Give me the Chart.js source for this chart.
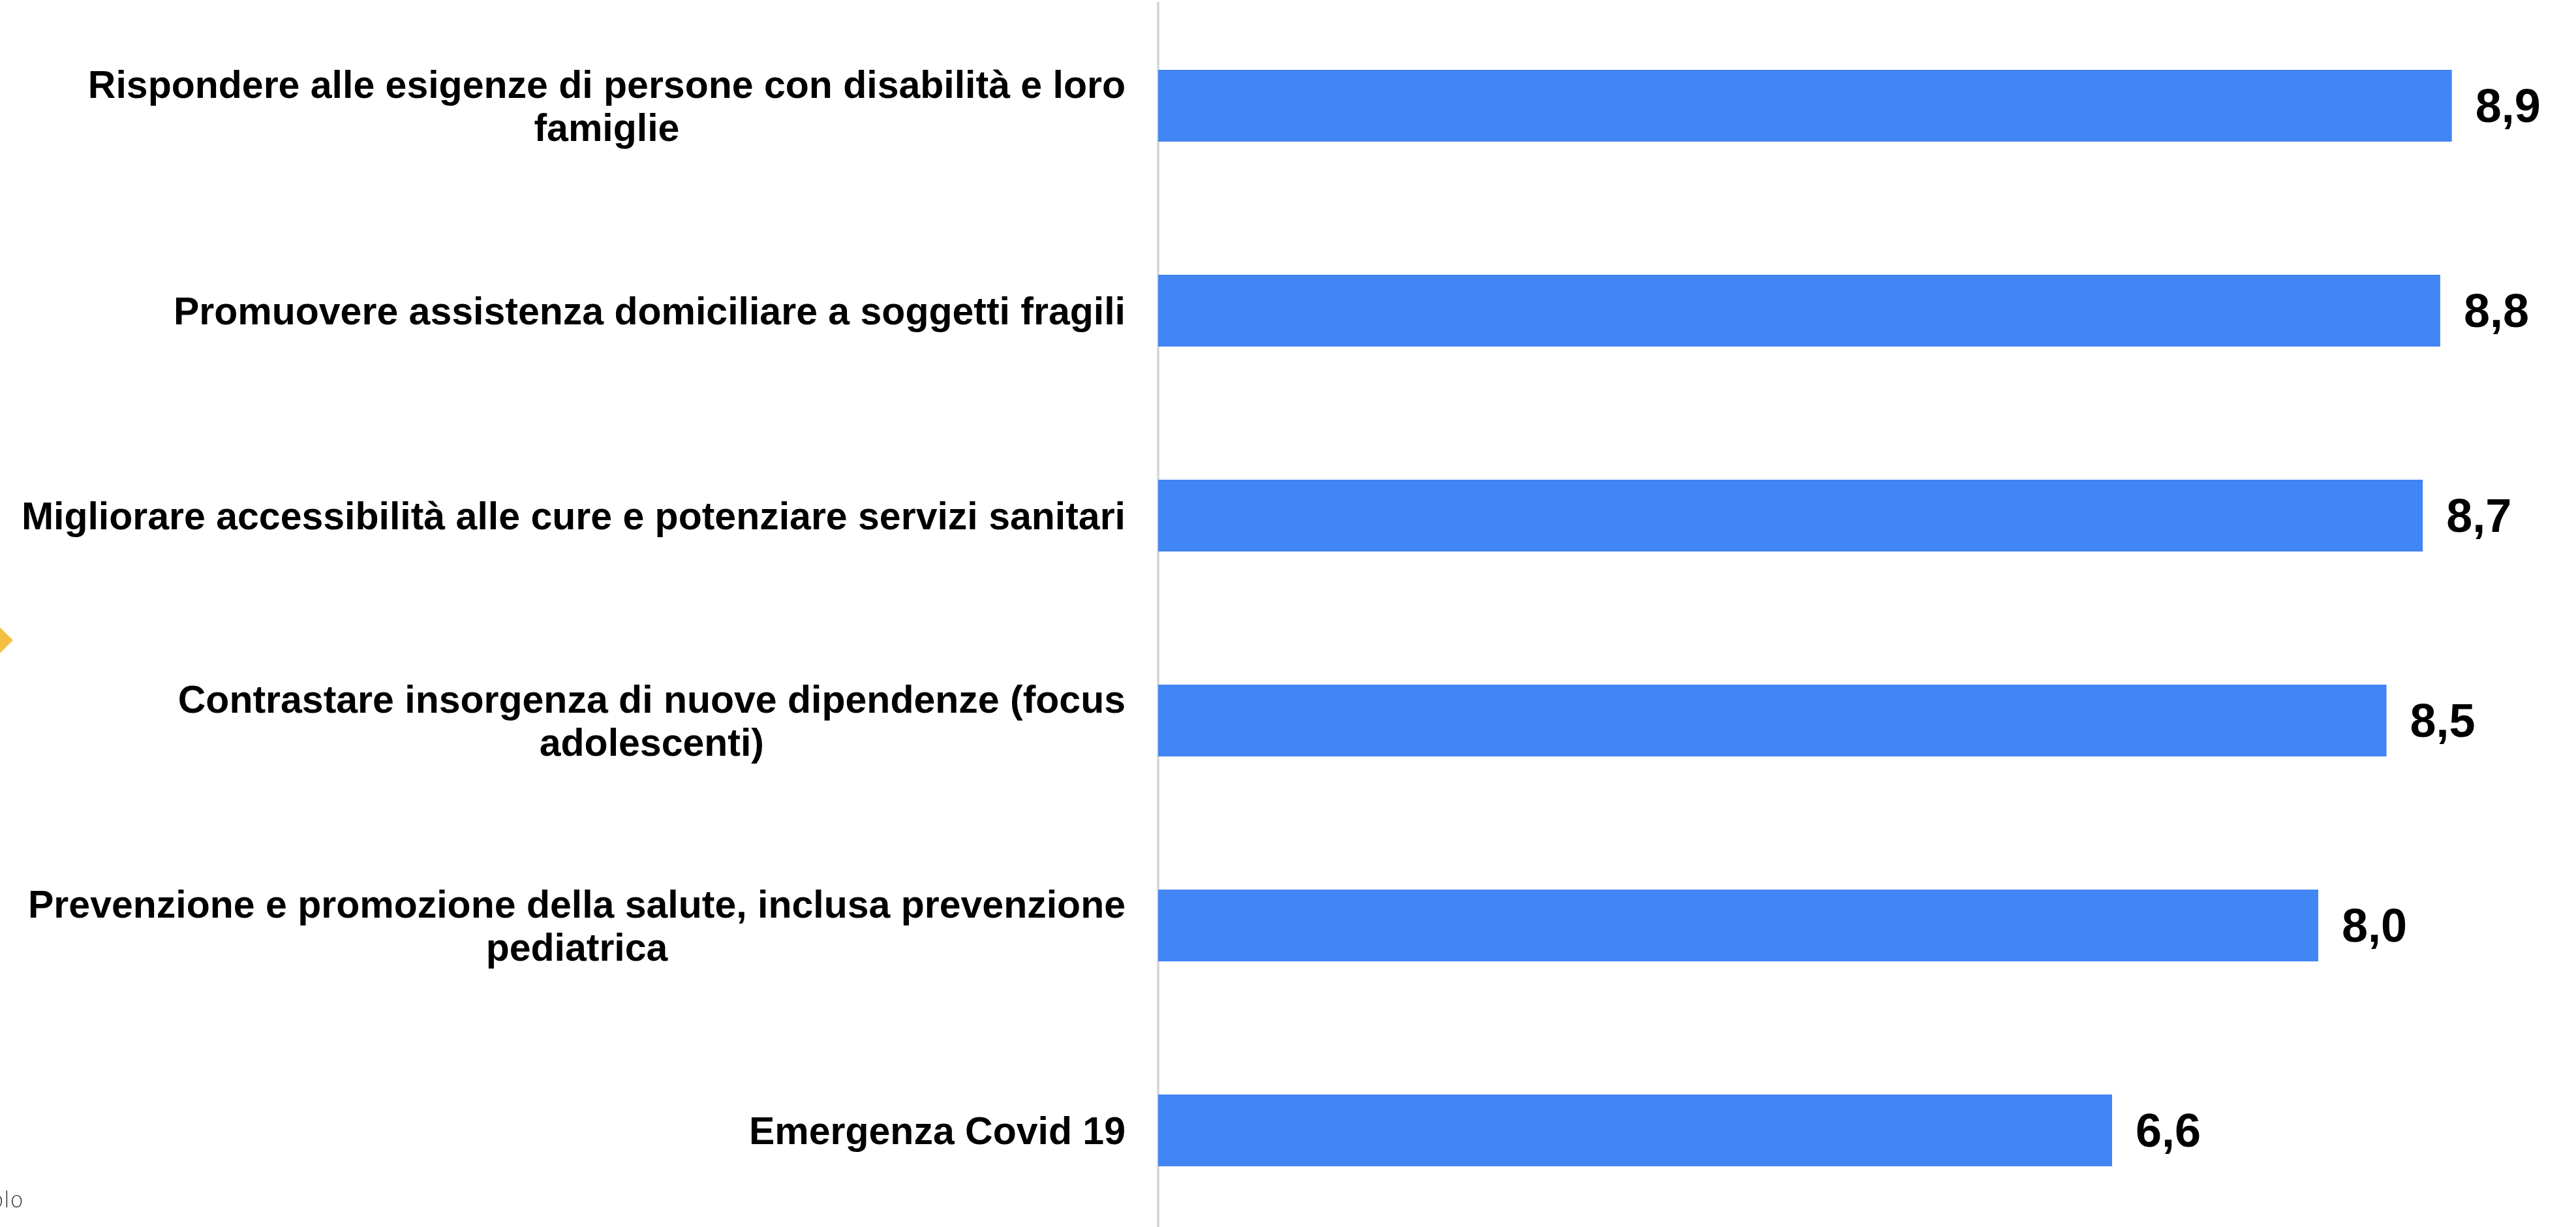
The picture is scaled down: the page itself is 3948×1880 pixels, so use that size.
<!DOCTYPE html>
<html lang="it">
<head>
<meta charset="utf-8">
<script src="https://cdn.jsdelivr.net/npm/chart.js@4"></script>
<style>
  body { margin: 0; background: #fff; overflow: hidden; }
  .wrap { position: relative; width: 3948px; height: 1892px; }
  .rombo { position: absolute; left: -14px; top: 967px; width: 28px; height: 28px; background: #f2bf40; transform: rotate(45deg); }
  .nota { position: absolute; left: -15px; top: 1818px; font: 200 34px "DejaVu Sans", sans-serif; color: #333; }
</style>
</head>
<body>
<div class="wrap">
  <canvas id="myChart"></canvas>
  <div class="rombo"></div>
  <div class="nota">olo</div>
</div>
<script>
const categorie = [
  ["Rispondere alle esigenze di persone con disabilità e loro", "famiglie"],
  ["Promuovere assistenza domiciliare a soggetti fragili"],
  ["Migliorare accessibilità alle cure e potenziare servizi sanitari"],
  ["Contrastare insorgenza di nuove dipendenze (focus", "adolescenti)"],
  ["Prevenzione e promozione della salute, inclusa prevenzione", "pediatrica"],
  ["Emergenza Covid 19"]
];
const valori = [8.91, 8.83, 8.71, 8.46, 7.99, 6.57];
const asseMin = 0;
const asseMax = 9.5;

const etichette = {
  id: "etichette",
  afterDraw(chart) {
    const ctx = chart.ctx;
    const y = chart.scales.y;
    ctx.save();
    ctx.fillStyle = "#000";
    ctx.textBaseline = "middle";
    // etichette delle categorie: blocco allineato a destra, righe centrate
    ctx.font = "bold 59px 'Liberation Sans', Arial, sans-serif";
    ctx.textAlign = "center";
    const destra = chart.chartArea.left - 50;
    categorie.forEach((righe, i) => {
      const cy = y.getPixelForValue(i) + 5;
      const larg = Math.max(...righe.map((r) => ctx.measureText(r).width));
      const cx = destra - larg / 2;
      righe.forEach((r, k) => {
        ctx.fillText(r, cx, cy + (k - (righe.length - 1) / 2) * 66);
      });
    });
    // valori a destra delle barre
    ctx.font = "bold 72px 'Liberation Sans', Arial, sans-serif";
    ctx.textAlign = "left";
    chart.getDatasetMeta(0).data.forEach((bar, i) => {
      ctx.fillText(valori[i].toFixed(1).replace(".", ","), bar.x + 36, bar.y + 5);
    });
    ctx.restore();
  }
};

new Chart(document.getElementById("myChart"), {
  type: "bar",
  data: {
    labels: categorie,
    datasets: [{
      data: valori,
      backgroundColor: "#4285f4",
      barPercentage: 0.35,
      categoryPercentage: 1
    }]
  },
  options: {
    indexAxis: "y",
    responsive: true,
    maintainAspectRatio: false,
    animation: false,
    devicePixelRatio: 1,
    layout: { padding: { left: 0, right: 59, top: 5, bottom: 3 } },
    plugins: { legend: { display: false }, tooltip: { enabled: false } },
    scales: {
      x: { display: false, min: asseMin, max: asseMax },
      y: {
        grid: { display: false },
        border: { display: true, color: "#d9d9d9", width: 4 },
        ticks: { display: false },
        afterFit: (s) => { s.width = 1775; }
      }
    }
  },
  plugins: [etichette]
});
</script>
</body>
</html>
